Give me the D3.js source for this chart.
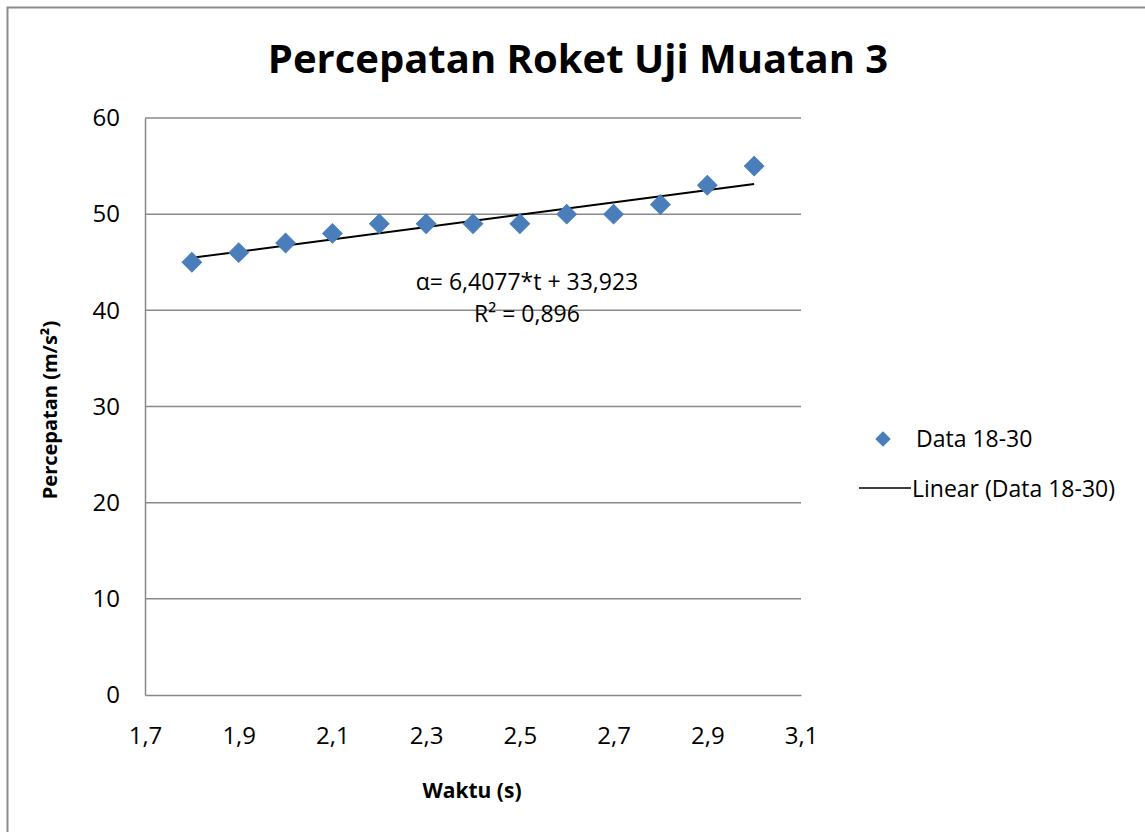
<!DOCTYPE html>
<html>
<head>
<meta charset="utf-8">
<script src="https://cdn.jsdelivr.net/npm/d3@7"></script>
<style>
  body { margin: 0; background: #fff; }
  text { font-family: "Open Sans", "Noto Sans", sans-serif; fill: #000; }
</style>
</head>
<body>
<div id="chart"></div>
<script>
// data
const waktu = [1.8, 1.9, 2.0, 2.1, 2.2, 2.3, 2.4, 2.5, 2.6, 2.7, 2.8, 2.9, 3.0];
const percepatan = [45, 46, 47, 48, 49, 49, 49, 49, 50, 50, 51, 53, 55];
const xTicks = [1.7, 1.9, 2.1, 2.3, 2.5, 2.7, 2.9, 3.1];
const yTicks = [0, 10, 20, 30, 40, 50, 60];
const trend = [6.4077, 33.923]; // slope, intercept

const width = 1145, height = 832;
const plot = { left: 145, right: 801, top: 118, bottom: 695 };

const svg = d3.select('#chart')
  .append('svg')
  .attr('width', width)
  .attr('height', height);

// outer chart frame
svg.append('rect')
  .attr('x', 7.5).attr('y', 7.5)
  .attr('width', width + 20).attr('height', height + 20)
  .attr('fill', 'none')
  .attr('stroke', '#8c8c8c')
  .attr('stroke-width', 2);

const x = d3.scaleLinear().domain([1.7, 3.1]).range([plot.left, plot.right]);
const y = d3.scaleLinear().domain([0, 60]).range([plot.bottom, plot.top]);

// gridlines
svg.append('g')
  .selectAll('line')
  .data(yTicks.filter(d => d > 0))
  .enter()
  .append('line')
  .attr('x1', plot.left).attr('x2', plot.right)
  .attr('y1', d => y(d)).attr('y2', d => y(d))
  .attr('stroke', '#898989')
  .attr('stroke-width', 1.5);

// axes
const yAxis = svg.append('g')
  .attr('transform', `translate(${plot.left},0)`)
  .call(d3.axisLeft(y).tickValues(yTicks).tickSize(0).tickPadding(25).tickFormat(d => String(d)));
const xAxis = svg.append('g')
  .attr('transform', `translate(0,${plot.bottom})`)
  .call(d3.axisBottom(x).tickValues(xTicks).tickSize(0).tickPadding(32).tickFormat(d => d.toFixed(1).replace('.', ',')));

[xAxis, yAxis].forEach(a => {
  a.select('.domain').attr('stroke', '#898989').attr('stroke-width', 1.5);
  a.selectAll('text')
    .style('font-family', '"Open Sans", sans-serif')
    .style('font-size', '24px')
    .attr('fill', '#000');
});

// trendline
const tMin = d3.min(waktu), tMax = d3.max(waktu);
svg.append('line')
  .attr('x1', x(tMin)).attr('y1', y(trend[0] * tMin + trend[1]))
  .attr('x2', x(tMax)).attr('y2', y(trend[0] * tMax + trend[1]))
  .attr('stroke', '#000')
  .attr('stroke-width', 2);

// diamond markers
const diamond = d3.symbol().type(d3.symbolSquare).size(190);
svg.append('g')
  .selectAll('path')
  .data(waktu.map((t, i) => [t, percepatan[i]]))
  .enter()
  .append('path')
  .attr('d', diamond)
  .attr('transform', d => `translate(${x(d[0])},${y(d[1])}) rotate(45)`)
  .attr('fill', '#4A7EBB')
  .attr('stroke', '#4A7EBB')
  .attr('stroke-width', 1);

// equation label
const eq = svg.append('text')
  .attr('x', 527)
  .attr('text-anchor', 'middle')
  .style('font-size', '23px');
eq.append('tspan').attr('x', 527).attr('y', 290)
  .text(`α= ${String(trend[0]).replace('.', ',')}*t + ${String(trend[1]).replace('.', ',')}`);
eq.append('tspan').attr('x', 527).attr('y', 322).text('R² = 0,896');

// title
svg.append('text')
  .attr('x', 578).attr('y', 73)
  .attr('text-anchor', 'middle')
  .style('font-size', '40px')
  .style('font-weight', 'bold')
  .text('Percepatan Roket Uji Muatan 3');

// axis titles
svg.append('text')
  .attr('x', 472).attr('y', 798)
  .attr('text-anchor', 'middle')
  .style('font-size', '21px')
  .style('font-weight', 'bold')
  .text('Waktu (s)');

svg.append('text')
  .attr('transform', 'translate(57,410) rotate(-90)')
  .attr('text-anchor', 'middle')
  .style('font-size', '20px')
  .style('font-weight', 'bold')
  .text('Percepatan (m/s²)');

// legend
const legend = svg.append('g');
legend.append('path')
  .attr('d', d3.symbol().type(d3.symbolSquare).size(120))
  .attr('transform', 'translate(883,439) rotate(45)')
  .attr('fill', '#4A7EBB');
legend.append('text')
  .attr('x', 916).attr('y', 447)
  .style('font-size', '23px')
  .text('Data 18-30');
legend.append('line')
  .attr('x1', 859).attr('x2', 911)
  .attr('y1', 488).attr('y2', 488)
  .attr('stroke', '#000')
  .attr('stroke-width', 1.5);
legend.append('text')
  .attr('x', 912).attr('y', 497)
  .style('font-size', '23px')
  .text('Linear (Data 18-30)');
</script>
</body>
</html>
